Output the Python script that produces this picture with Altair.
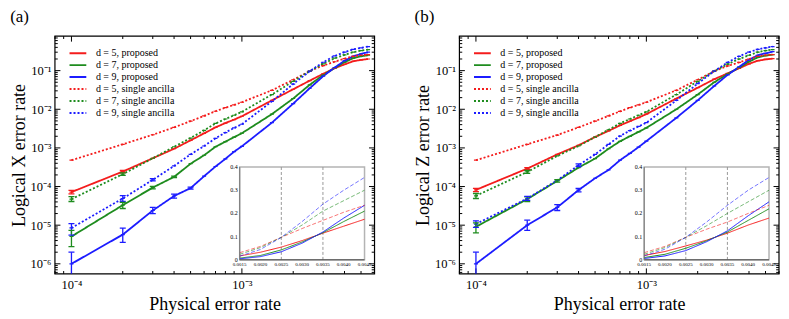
import altair as alt
import pandas as pd

# ---------------- data ----------------
P = [1e-4, 2e-4, 3e-4, 4e-4, 5e-4, 6e-4, 7e-4, 8e-4, 9e-4, 1e-3,
     1.5e-3, 2e-3, 2.5e-3, 3e-3, 3.5e-3, 4e-3, 4.5e-3, 5e-3, 5.5e-3]

SERIES = ["d = 5, proposed", "d = 7, proposed", "d = 9, proposed",
          "d = 5, single ancilla", "d = 7, single ancilla", "d = 9, single ancilla"]
KIND = ["proposed", "proposed", "proposed", "single", "single", "single"]

# panel (a): logical X
x_d5_prop = [7.2e-5, 2.44e-4, 5.4e-4, 9.5e-4, 1.57e-3, 2.38e-3, 3.4e-3, 4.4e-3, 5.4e-3, 6.6e-3,
             0.017, 0.033, 0.055, 0.083, 0.115, 0.145, 0.175, 0.19, 0.2]
x_d7_prop = [5.1e-6, 3.3e-5, 9.4e-5, 1.78e-4, 3.9e-4, 6.45e-4, 1.07e-3, 1.45e-3, 1.9e-3, 2.4e-3,
             7.5e-3, 0.019, 0.043, 0.077, 0.117, 0.165, 0.21, 0.235, 0.25]
x_d9_prop = [1.0e-6, 5.7e-6, 2.4e-5, 5.7e-5, 9.1e-5, 1.85e-4, 3.3e-4, 5.2e-4, 8.0e-4, 1.1e-3,
             4.5e-3, 0.014, 0.035, 0.072, 0.12, 0.18, 0.235, 0.27, 0.30]
x_d5_single = [4.8e-4, 1.24e-3, 2.19e-3, 3.4e-3, 4.93e-3, 6.76e-3, 8.9e-3, 1.1e-2, 1.3e-2, 1.52e-2,
               0.031, 0.058, 0.097, 0.135, 0.17, 0.205, 0.235, 0.25, 0.26]
x_d7_single = [4.73e-5, 2.09e-4, 5.4e-4, 1.07e-3, 1.8e-3, 2.84e-3, 4.3e-3, 5.6e-3, 7.0e-3, 8.6e-3,
               0.024, 0.053, 0.097, 0.15, 0.21, 0.255, 0.30, 0.33, 0.35]
x_d9_single = [8.5e-6, 4.9e-5, 1.49e-4, 3.42e-4, 6.8e-4, 1.12e-3, 1.77e-3, 2.5e-3, 3.3e-3, 4.1e-3,
               0.016, 0.045, 0.097, 0.165, 0.24, 0.30, 0.355, 0.39, 0.42]

# panel (b): logical Z
z_d5_prop = [8.2e-5, 2.91e-4, 6.8e-4, 1.17e-3, 1.91e-3, 2.77e-3, 3.82e-3, 4.9e-3, 6.1e-3, 7.5e-3,
             0.019, 0.036, 0.06, 0.085, 0.115, 0.15, 0.18, 0.195, 0.205]
z_d7_prop = [9.1e-6, 4.73e-5, 1.4e-4, 3.09e-4, 5.3e-4, 9.5e-4, 1.48e-3, 2.0e-3, 2.6e-3, 3.3e-3,
             0.01, 0.024, 0.05, 0.082, 0.12, 0.17, 0.22, 0.245, 0.26]
z_d9_prop = [1.0e-6, 1.0e-5, 2.9e-5, 8.1e-5, 1.64e-4, 2.69e-4, 4.8e-4, 7.2e-4, 1.05e-3, 1.5e-3,
             6e-3, 0.017, 0.04, 0.078, 0.125, 0.19, 0.25, 0.28, 0.31]
z_d5_single = [4.8e-4, 1.24e-3, 2.15e-3, 3.4e-3, 4.93e-3, 6.76e-3, 8.8e-3, 1.1e-2, 1.3e-2, 1.52e-2,
               0.031, 0.058, 0.097, 0.132, 0.163, 0.2, 0.235, 0.25, 0.26]
z_d7_single = [5.75e-5, 2.39e-4, 6.2e-4, 1.12e-3, 1.91e-3, 2.95e-3, 4.3e-3, 5.6e-3, 7.0e-3, 8.6e-3,
               0.024, 0.053, 0.097, 0.147, 0.2, 0.25, 0.30, 0.33, 0.35]
z_d9_single = [1.07e-5, 4.9e-5, 1.45e-4, 3.56e-4, 6.8e-4, 1.24e-3, 2.03e-3, 2.8e-3, 3.6e-3, 4.5e-3,
               0.017, 0.046, 0.097, 0.163, 0.235, 0.30, 0.355, 0.39, 0.42]

X_VALUES = [x_d5_prop, x_d7_prop, x_d9_prop, x_d5_single, x_d7_single, x_d9_single]
Z_VALUES = [z_d5_prop, z_d7_prop, z_d9_prop, z_d5_single, z_d7_single, z_d9_single]

# error bars: (series index, p, low, high)
X_ERR = [(0, 1e-4, 6.5e-5, 8.0e-5), (4, 1e-4, 4.1e-5, 5.5e-5), (5, 1e-4, 5.5e-6, 1.1e-5),
         (1, 1e-4, 2.8e-6, 7.3e-6), (2, 1e-4, 1e-7, 2.0e-6), (2, 2e-4, 3.6e-6, 8.4e-6),
         (1, 2e-4, 2.7e-5, 3.9e-5), (5, 2e-4, 4.1e-5, 5.8e-5), (2, 3e-4, 2.0e-5, 2.9e-5),
         (2, 4e-4, 5.0e-5, 6.4e-5), (0, 2e-4, 2.3e-4, 2.6e-4), (4, 2e-4, 1.95e-4, 2.25e-4),
         (1, 3e-4, 8.7e-5, 1.01e-4), (5, 3e-4, 1.4e-4, 1.6e-4), (1, 4e-4, 1.7e-4, 1.87e-4),
         (2, 5e-4, 8.6e-5, 9.7e-5)]
Z_ERR = [(0, 1e-4, 7.4e-5, 9.0e-5), (4, 1e-4, 4.9e-5, 6.6e-5), (5, 1e-4, 8.8e-6, 1.3e-5),
         (1, 1e-4, 6.3e-6, 1.15e-5), (2, 1e-4, 1e-7, 2.0e-6), (2, 2e-4, 7.3e-6, 1.35e-5),
         (1, 2e-4, 4.1e-5, 5.4e-5), (5, 2e-4, 4.4e-5, 5.6e-5), (2, 3e-4, 2.4e-5, 3.4e-5),
         (2, 4e-4, 7.3e-5, 8.9e-5), (0, 2e-4, 2.75e-4, 3.1e-4), (4, 2e-4, 2.2e-4, 2.6e-4),
         (1, 3e-4, 1.3e-4, 1.5e-4), (5, 4e-4, 3.3e-4, 3.85e-4)]

INSET_X_TICKS = [0.0015, 0.0020, 0.0025, 0.0030, 0.0035, 0.0040, 0.0045]
INSET_Y_TICKS = [0, 0.1, 0.2, 0.3, 0.4]
INSET_MARKS = [0.0025, 0.0035]

MAIN_X_DOMAIN = [8e-5, 6e-3]
MAIN_Y_DOMAIN = [5.5e-7, 0.78]
X_DECADES = [-4, -3]
Y_DECADES = [-6, -5, -4, -3, -2, -1]

# ---------------- style ----------------
SERIF = "Liberation Serif"
COLORS = ["#f41c1c", "#1e8c1e", "#1c1cff", "#f41c1c", "#1e8c1e", "#1c1cff"]
DASHES = [[1, 0], [1, 0], [1, 0], [2, 2], [2, 2], [2, 2]]
INSET_DASHES = [[1, 0], [1, 0], [1, 0], [4, 2], [4, 2], [4, 2]]
W, H = 320, 238
INSET_LEFT, INSET_RIGHT = 185, 310
INSET_TOP, INSET_BOTTOM = 131, 224

SUP = str.maketrans("-0123456789", "⁻⁰¹²³⁴⁵⁶⁷⁸⁹")


def minor_ticks(lo, hi):
    out = []
    for e in range(-8, 1):
        for k in range(1, 10):
            v = float(f"{k}e{e}")
            if lo <= v <= hi:
                out.append(v)
    return out


def decade_label_expr(decades):
    expr = "''"
    for e in reversed(decades):
        expr = f"datum.value == {float(f'1e{e}')!r} ? '10{str(e).translate(SUP)}' : " + expr
    return expr


def tick_frame(domain, other_domain):
    ticks = minor_ticks(*domain)
    return pd.DataFrame({
        "t": ticks,
        "major": ["major" if str(t).startswith("1e") or str(t) in ("0.1", "0.01", "0.001", "0.0001")
                  else "minor" for t in ticks],
        "lo": [other_domain[0]] * len(ticks),
        "hi": [other_domain[1]] * len(ticks),
    })


def panel(vals, errs, ytitle, tag):
    rows = []
    for s, k, arr in zip(SERIES, KIND, vals):
        for p, v in zip(P, arr):
            rows.append(dict(series=s, kind=k, p=p, v=v))
    df = pd.DataFrame(rows)
    err_df = pd.DataFrame([dict(series=SERIES[i], p=p, lo=lo, hi=hi) for i, p, lo, hi in errs])

    xs = alt.Scale(type="log", domain=MAIN_X_DOMAIN, nice=False)
    ys = alt.Scale(type="log", domain=MAIN_Y_DOMAIN, nice=False)
    xaxis = alt.Axis(values=minor_ticks(*MAIN_X_DOMAIN), labelExpr=decade_label_expr(X_DECADES),
                     ticks=False, domain=False, title="Physical error rate", titleFont=SERIF,
                     titleFontSize=18, titleFontWeight="normal", labelFont=SERIF, labelFontSize=12.5,
                     titlePadding=4, labelPadding=5, grid=False, labelFlush=False)
    yaxis = alt.Axis(values=minor_ticks(*MAIN_Y_DOMAIN), labelExpr=decade_label_expr(Y_DECADES),
                     ticks=False, domain=False, title=ytitle, titleFont=SERIF, titleFontSize=18,
                     titleFontWeight="normal", labelFont=SERIF, labelFontSize=12.5,
                     titlePadding=2, labelPadding=4, grid=False, labelFlush=False)
    legend = alt.Legend(title=None, orient="none", legendX=18, legendY=12, padding=0,
                        labelFont=SERIF, labelFontSize=10, symbolType="M-2.4,0H2.4",
                        symbolSize=49, symbolStrokeWidth=2, rowPadding=2, labelOffset=13)
    color = alt.Color("series:N", scale=alt.Scale(domain=SERIES, range=COLORS), legend=legend)
    dash = alt.StrokeDash("series:N", scale=alt.Scale(domain=SERIES, range=DASHES), legend=legend)
    size = alt.Size("major:N", scale=alt.Scale(domain=["major", "minor"], range=[30, 8]), legend=None)

    X = alt.X("p:Q", scale=xs, axis=xaxis)
    lines = alt.Chart(df).mark_line(strokeWidth=1.8, clip=True).encode(
        x=X, y=alt.Y("v:Q", scale=ys, axis=yaxis), color=color, strokeDash=dash)
    dots = alt.Chart(df).mark_point(shape="stroke", size=16, strokeWidth=1.2, opacity=1,
                                    clip=True).encode(
        x=X, y=alt.Y("v:Q", scale=ys, axis=yaxis), color=color)
    bars = alt.Chart(err_df).mark_rule(strokeWidth=1.3, clip=True).encode(
        x=X, y=alt.Y("lo:Q", scale=ys, axis=yaxis), y2="hi:Q", color=color)
    cap_lo = alt.Chart(err_df).mark_point(shape="stroke", size=36, strokeWidth=1.3, opacity=1,
                                          clip=True).encode(
        x=X, y=alt.Y("lo:Q", scale=ys, axis=yaxis), color=color)
    cap_hi = alt.Chart(err_df).mark_point(shape="stroke", size=36, strokeWidth=1.3, opacity=1,
                                          clip=True).encode(
        x=X, y=alt.Y("hi:Q", scale=ys, axis=yaxis), color=color)

    # frame and inward ticks on all four sides
    mframe_df = pd.DataFrame([dict(x0=MAIN_X_DOMAIN[0], x1=MAIN_X_DOMAIN[1],
                                   y0=MAIN_Y_DOMAIN[0], y1=MAIN_Y_DOMAIN[1])])
    mframe = alt.Chart(mframe_df).mark_rect(fill="white", stroke="black", strokeWidth=1.2).encode(
        x=alt.X("x0:Q", scale=xs, axis=xaxis), x2="x1:Q",
        y=alt.Y("y0:Q", scale=ys, axis=yaxis), y2="y1:Q")
    xt = tick_frame(MAIN_X_DOMAIN, MAIN_Y_DOMAIN)
    yt = tick_frame(MAIN_Y_DOMAIN, MAIN_X_DOMAIN)
    tick_layers = []
    for data, shape, xf, yf in [(xt, "M0,0L0,-2", "t", "lo"), (xt, "M0,0L0,2", "t", "hi"),
                                (yt, "M0,0L2,0", "lo", "t"), (yt, "M0,0L-2,0", "hi", "t")]:
        tick_layers.append(alt.Chart(data).mark_point(shape=shape, color="black", strokeWidth=1,
                                                      opacity=1, filled=False).encode(
            x=alt.X(f"{xf}:Q", scale=xs, axis=xaxis), y=alt.Y(f"{yf}:Q", scale=ys, axis=yaxis),
            size=size))
    main = alt.layer(mframe, *tick_layers, lines, dots, bars, cap_lo, cap_hi)

    # inset (linear scales), axes drawn as text through the inset scales
    idf = df[(df.p >= INSET_X_TICKS[0]) & (df.p <= INSET_X_TICKS[-1])]
    ixs = alt.Scale(domain=[INSET_X_TICKS[0], INSET_X_TICKS[-1]], range=[INSET_LEFT, INSET_RIGHT],
                    zero=False, nice=False)
    iys = alt.Scale(domain=[INSET_Y_TICKS[0], INSET_Y_TICKS[-1]], range=[INSET_BOTTOM, INSET_TOP],
                    zero=False, nice=False)
    frame_df = pd.DataFrame([dict(x0=INSET_X_TICKS[0], x1=INSET_X_TICKS[-1],
                                  y0=INSET_Y_TICKS[0], y1=INSET_Y_TICKS[-1])])
    frame = alt.Chart(frame_df).mark_rect(fill="white", stroke="#b4b4b4", strokeWidth=1.5).encode(
        x=alt.X("x0:Q", scale=ixs, axis=None), x2="x1:Q",
        y=alt.Y("y0:Q", scale=iys, axis=None), y2="y1:Q")
    bottom_edge = alt.Chart(frame_df).mark_rule(color="#444444", strokeWidth=1).encode(
        x=alt.X("x0:Q", scale=ixs, axis=None), x2="x1:Q", y=alt.Y("y0:Q", scale=iys, axis=None))
    left_edge = alt.Chart(frame_df).mark_rule(color="#777777", strokeWidth=1).encode(
        x=alt.X("x0:Q", scale=ixs, axis=None), y=alt.Y("y0:Q", scale=iys, axis=None), y2="y1:Q")
    vdf = pd.DataFrame([dict(p=m, y0=INSET_Y_TICKS[0], y1=INSET_Y_TICKS[-1]) for m in INSET_MARKS])
    vlines = alt.Chart(vdf).mark_rule(color="#999999", strokeDash=[3, 2], strokeWidth=1).encode(
        x=alt.X("p:Q", scale=ixs, axis=None), y=alt.Y("y0:Q", scale=iys, axis=None), y2="y1:Q")
    ilines = alt.Chart(idf).mark_line(strokeWidth=1).encode(
        x=alt.X("p:Q", scale=ixs, axis=None), y=alt.Y("v:Q", scale=iys, axis=None),
        color=alt.Color("series:N", scale=alt.Scale(domain=SERIES, range=COLORS), legend=None),
        strokeDash=alt.StrokeDash("series:N", scale=alt.Scale(domain=SERIES, range=INSET_DASHES),
                                  legend=None),
        opacity=alt.condition("datum.kind == 'single'", alt.value(0.6), alt.value(1.0)))
    xl_df = pd.DataFrame({"t": INSET_X_TICKS, "y": [INSET_Y_TICKS[0]] * len(INSET_X_TICKS),
                          "label": [f"{t:.4f}" for t in INSET_X_TICKS]})
    xlabels = alt.Chart(xl_df).mark_text(font=SERIF, fontSize=5, baseline="top", dy=2,
                                         color="black").encode(
        x=alt.X("t:Q", scale=ixs, axis=None), y=alt.Y("y:Q", scale=iys, axis=None), text="label:N")
    yl_df = pd.DataFrame({"t": INSET_Y_TICKS, "x": [INSET_X_TICKS[0]] * len(INSET_Y_TICKS),
                          "label": ["0" if t == 0 else f"{t:.1f}" for t in INSET_Y_TICKS]})
    ylabels = alt.Chart(yl_df).mark_text(font=SERIF, fontSize=6, align="right", baseline="middle",
                                         dx=-2, color="black").encode(
        x=alt.X("x:Q", scale=ixs, axis=None), y=alt.Y("t:Q", scale=iys, axis=None), text="label:N")
    inset = alt.layer(frame, vlines, ilines, bottom_edge, left_edge, xlabels, ylabels)

    return alt.layer(main, inset).resolve_scale(
        x="independent", y="independent", color="independent", strokeDash="independent"
    ).properties(
        width=W, height=H,
        title=alt.TitleParams(tag, anchor="start", font=SERIF, fontSize=17, fontWeight="normal",
                              offset=8),
    )


left = panel(X_VALUES, X_ERR, "Logical X error rate", "(a)")
right = panel(Z_VALUES, Z_ERR, "Logical Z error rate", "(b)")

chart = alt.hconcat(left, right, spacing=38).resolve_scale(
    color="independent", strokeDash="independent", size="independent"
).resolve_legend(color="independent", strokeDash="independent").properties(
    padding={"left": 2, "top": 0, "right": 0, "bottom": 0}
).configure_view(stroke=None).configure_axis(
    labelColor="black", titleColor="black"
).configure_title(color="black")

chart.save("out.html", embed_options={"renderer": "svg", "actions": False})
